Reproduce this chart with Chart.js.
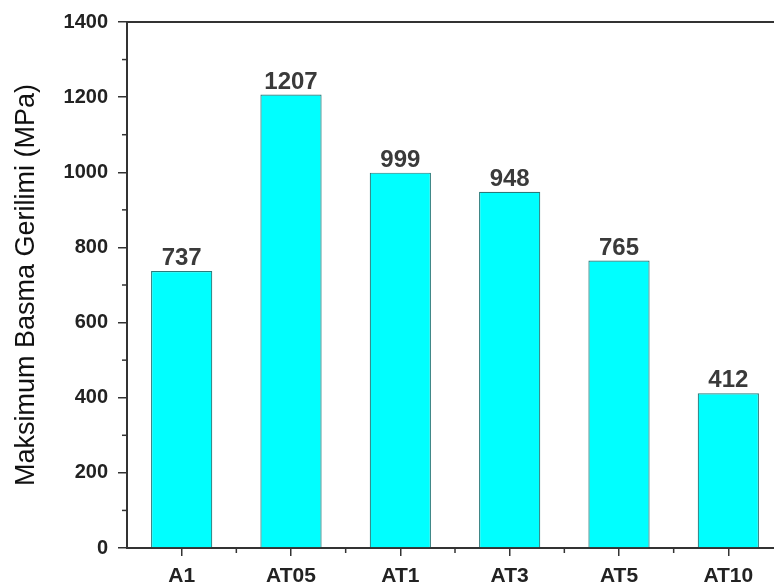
<!DOCTYPE html>
<html>
<head>
<meta charset="utf-8">
<script src="https://cdn.jsdelivr.net/npm/chart.js@4.4.1/dist/chart.umd.min.js"></script>
<style>
  html, body { margin: 0; padding: 0; overflow: hidden; background: #fff; }
  #wrap { width: 783px; height: 588px; }
</style>
</head>
<body>
<div id="wrap"><canvas id="c"></canvas></div>
<script>
// categories and values
var samples = ['A1', 'AT05', 'AT1', 'AT3', 'AT5', 'AT10'];
var maxStress = [737, 1207, 999, 948, 765, 412];
var yMinorTicks = [100, 300, 500, 700, 900, 1100, 1300];

var FONT = 'Arial, "Liberation Sans", sans-serif';
var AXIS = '#333333';

// short ticks between the labelled ones, plus the top frame line
var frameAndMinor = {
    id: 'frameAndMinor',
    afterDraw: function(chart){
        var ctx = chart.ctx;
        var area = chart.chartArea;
        var x = chart.scales.x;
        var y = chart.scales.y;
        ctx.save();
        ctx.strokeStyle = AXIS;
        ctx.lineWidth = 2;
        ctx.beginPath();
        ctx.moveTo(area.left - 1, area.top);
        ctx.lineTo(area.right, area.top);
        ctx.stroke();
        ctx.lineWidth = 1.5;
        yMinorTicks.forEach(function(v){
            var py = y.getPixelForValue(v);
            ctx.beginPath();
            ctx.moveTo(area.left - 5, py);
            ctx.lineTo(area.left, py);
            ctx.stroke();
        });
        for(var i=0;i<samples.length-1;i++){
            var px = (x.getPixelForValue(i) + x.getPixelForValue(i+1)) / 2;
            ctx.beginPath();
            ctx.moveTo(px, area.bottom);
            ctx.lineTo(px, area.bottom + 5);
            ctx.stroke();
        }
        ctx.restore();
    }
};

// numbers written over each bar
var barValues = {
    id: 'barValues',
    afterDatasetsDraw: function(chart){
        var ctx = chart.ctx;
        var meta = chart.getDatasetMeta(0);
        ctx.save();
        ctx.font = 'bold 24px ' + FONT;
        ctx.fillStyle = '#3a3a3a';
        ctx.textAlign = 'center';
        ctx.textBaseline = 'alphabetic';
        meta.data.forEach(function(bar, i){
            ctx.fillText(String(maxStress[i]), bar.x, bar.y - 6);
        });
        ctx.restore();
    }
};

new Chart(document.getElementById('c'), {
    type: 'bar',
    data: {
        labels: samples,
        datasets: [{
            data: maxStress,
            backgroundColor: '#00ffff',
            borderColor: '#2a7a7a',
            borderWidth: 1.2,
            barPercentage: 0.56,
            categoryPercentage: 1
        }]
    },
    options: {
        responsive: true,
        maintainAspectRatio: false,
        animation: false,
        layout: { padding: { top: 20, right: 0, bottom: 0, left: 0 } },
        plugins: {
            legend: { display: false },
            tooltip: { enabled: false }
        },
        scales: {
            x: {
                offset: true,
                afterFit: function(scale){ scale.height = 40; },
                border: { display: true, color: AXIS, width: 2 },
                grid: {
                    offset: false,
                    drawOnChartArea: false,
                    drawTicks: true,
                    tickLength: 8,
                    tickColor: AXIS,
                    lineWidth: 1.5
                },
                ticks: {
                    color: '#222',
                    padding: 8,
                    font: { family: FONT, size: 21, weight: 'bold' }
                }
            },
            y: {
                min: 0,
                max: 1400,
                afterFit: function(scale){ scale.width = 127; },
                border: { display: true, color: AXIS, width: 2 },
                grid: {
                    drawOnChartArea: false,
                    drawTicks: true,
                    tickLength: 9,
                    tickColor: AXIS,
                    lineWidth: 1.5
                },
                ticks: {
                    stepSize: 200,
                    color: '#222',
                    padding: 10,
                    font: { family: FONT, size: 20, weight: 'bold' },
                    callback: function(v){ return String(v); }
                },
                title: {
                    display: true,
                    text: 'Maksimum Basma Gerilimi (MPa)',
                    color: '#111',
                    padding: { top: 10, bottom: 0 },
                    font: { family: FONT, size: 27 }
                }
            }
        }
    },
    plugins: [frameAndMinor, barValues]
});
</script>
</body>
</html>
